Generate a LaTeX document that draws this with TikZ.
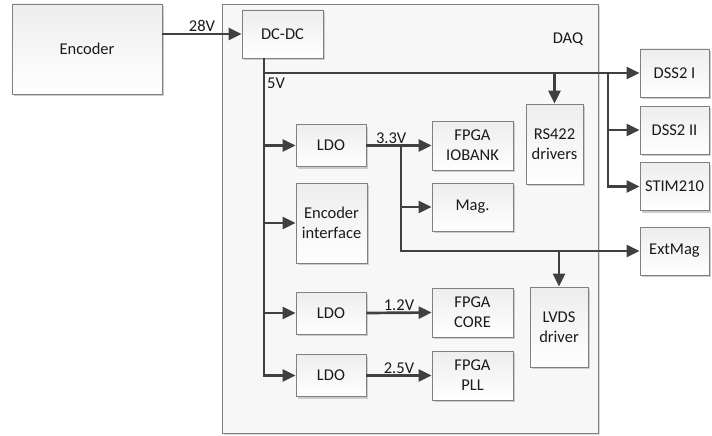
\documentclass[tikz,border=0pt]{standalone}
\usepackage{fontspec}
\setmainfont{Carlito}
\usetikzlibrary{arrows.meta,shadows,calc}
\definecolor{BlkLine}{HTML}{404040}
\definecolor{BlkBorder}{HTML}{808080}
\definecolor{BlkText}{HTML}{1A1A1A}

\begin{document}
\begin{tikzpicture}[x=1pt, y=-1pt,
  blk/.style={draw=BlkBorder, line width=0.8pt, top color=gray!14, bottom color=white,
    drop shadow={shadow xshift=2pt, shadow yshift=-2pt, fill=gray!40, opacity=1},
    text=BlkText, align=center, inner sep=0pt, font=\fontsize{16.5}{20}\selectfont},
  daqbox/.style={draw=BlkBorder, line width=0.8pt, fill=gray!6,
    drop shadow={shadow xshift=2pt, shadow yshift=-2pt, fill=gray!30, opacity=1}},
  wire/.style={draw=BlkLine, line width=2.7pt},
  feed/.style={wire, -{Triangle[length=13pt, width=12pt]}},
  lbl/.style={text=BlkText, font=\fontsize{16.5}{20}\selectfont, inner sep=1pt}]
\useasboundingbox (0,0) rectangle (712,436);

% Outer blocks
\node[blk, minimum width=150pt, minimum height=90pt] (enc) at (87,49) {Encoder};
\node[daqbox, minimum width=376pt, minimum height=429pt] (daq) at (410,218.5) {};
\node[lbl] (daqlbl) at (568,39) {DAQ};

% Blocks inside DAQ
\node[blk, minimum width=81pt, minimum height=48pt] (dcdc) at (282.5,34) {DC-DC};
\foreach \name/\y in {ldoa/145.5, ldob/313, ldoc/375.5}
  \node[blk, minimum width=70pt, minimum height=42pt] (\name) at (331,\y) {LDO};
\node[blk, minimum width=71pt, minimum height=80pt] (encif) at (331.5,223) {Encoder\\interface};
\node[blk, minimum width=81pt, minimum height=49pt] (iobank) at (472.5,145.5) {FPGA\\IOBANK};
\node[blk, minimum width=81pt, minimum height=48pt] (mag) at (472.5,207) {Mag.};
\node[blk, minimum width=81pt, minimum height=49pt] (core) at (472.5,312.5) {FPGA\\CORE};
\node[blk, minimum width=81pt, minimum height=49pt] (pll) at (472.5,375.5) {FPGA\\PLL};
\node[blk, minimum width=57pt, minimum height=80pt] (rs) at (554.5,144) {RS422\\drivers};
\node[blk, minimum width=58pt, minimum height=80pt] (lvds) at (559,327) {LVDS\\driver};

% External sensors
\foreach \name/\y/\txt in {dssa/73/DSS2 I, dssb/130/DSS2 II, stim/186.5/STIM210, extmag/251/ExtMag}
  \node[blk, minimum width=69pt, minimum height=48pt] (\name) at (674.5,\y) {\txt};

% Bus junctions
\coordinate (b5) at (264,73);
\coordinate (b6) at (608,73);
\coordinate (b3) at (401,251);

% 28V supply
\draw[feed] (enc.east |- dcdc.west) -- node[lbl, above] (v28) {28V} (dcdc.west);

% 5V bus
\draw[feed] (dcdc.south -| b5) |- (ldoc.west);
\foreach \dst in {ldoa, encif, ldob}
  \draw[feed] (b5 |- \dst.west) -- (\dst.west);
\draw[feed] (b5) -- (dssa.west);
\draw[feed] (rs.north |- b5) -- (rs.north);
\draw[feed] (b6) |- (stim.west);
\draw[feed] (b6 |- dssb.west) -- (dssb.west);
\node[lbl, anchor=north west] (v5) at ($(b5)+(2,4)$) {5V};

% 3.3V rail
\draw[feed] (ldoa.east) -- node[lbl, above, pos=0.38] (v33) {3.3V} (iobank.west);
\draw[feed] (ldoa.east -| b3) |- (extmag.west);
\draw[feed] (b3 |- mag.west) -- (mag.west);
\draw[feed] (lvds.north |- b3) -- (lvds.north);

% Core and PLL rails
\draw[feed] (ldob.east) -- node[lbl, above] (v12) {1.2V} (core.west);
\draw[feed] (ldoc.east) -- node[lbl, above] (v25) {2.5V} (pll.west);

\end{tikzpicture}
\end{document}
